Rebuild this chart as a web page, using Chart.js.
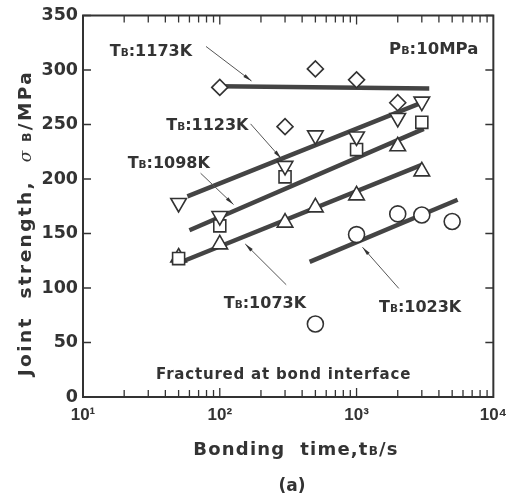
<!DOCTYPE html>
<html>
<head>
<meta charset="utf-8">
<script src="https://cdn.jsdelivr.net/npm/chart.js@4.4.0/dist/chart.umd.min.js"></script>
<style>
  html, body { margin: 0; padding: 0; background: #fff; }
</style>
</head>
<body>
<canvas id="chart" width="515" height="496"></canvas>
<script>
// bonding time (s) and joint strength (MPa)
const time1173 = [100, 300, 500, 1000, 2000];
const strength1173 = [284, 248, 301, 291, 270];
const time1123 = [50, 100, 300, 500, 1000, 2000, 3000];
const strength1123 = [178, 166, 212, 240, 239, 256, 271];
const time1098 = [50, 100, 300, 1000, 3000];
const strength1098 = [127, 157, 202, 227, 252];
const time1073 = [50, 100, 300, 500, 1000, 2000, 3000];
const strength1073 = [128, 140, 160, 174, 185, 230, 207];
const time1023 = [500, 1000, 2000, 3000, 5000];
const strength1023 = [67, 149, 168, 167, 161];

// fitted lines (end points)
const fitTime1173 = [100, 3400], fitStrength1173 = [285, 283];
const fitTime1123 = [58, 3000], fitStrength1123 = [184, 270];
const fitTime1098 = [60, 3100], fitStrength1098 = [153, 246];
const fitTime1073 = [55, 3000], fitStrength1073 = [125, 213];
const fitTime1023 = [454, 5480], fitStrength1023 = [124, 181];

// axes
const xTicks = [10, 100, 1000, 10000];
const xTickLabels = ['10\u00b9', '10\u00b2', '10\u00b3', '10\u2074'];
const yTicks = [0, 50, 100, 150, 200, 250, 300, 350];

// temperature labels and their arrows, in data units
const labelTemps = ['1173K', '1123K', '1098K', '1073K', '1023K'];
const labelTime = [15.7, 40.6, 21.2, 107, 1459];
const labelStrength = [318.6, 250.6, 215.3, 87.6, 83.1];
const arrowFromTime = [79.3, 167.9, 72.4, 306, 2037];
const arrowFromStrength = [321.6, 250.6, 205.3, 103, 99.6];
const arrowToTime = [170.6, 281, 126, 153.5, 1105];
const arrowToStrength = [289.9, 218.9, 176.6, 140.4, 137.4];

const ink = '#333';
const lineInk = '#444';
const FONT = '"DejaVu Sans", sans-serif';

const pts = (xs, ys) => xs.map((x, i) => ({ x: x, y: ys[i] }));

function markerSet(xs, ys, style, radius, rotation) {
    return {
        data: pts(xs, ys),
        showLine: false,
        pointStyle: style,
        pointRadius: radius,
        pointRotation: rotation || 0,
        pointBorderColor: ink,
        pointBackgroundColor: '#fff',
        pointBorderWidth: 1.6,
        order: 1
    };
}

function fitLine(xs, ys) {
    return {
        data: pts(xs, ys),
        showLine: true,
        borderColor: lineInk,
        borderWidth: 4.5,
        pointRadius: 0,
        order: 2
    };
}

// draws "T" + small "B" + rest, baseline-aligned
function richText(ctx, parts, x, y, align) {
    let total = 0;
    parts.forEach(p => {
        ctx.font = p.font;
        p.w = ctx.measureText(p.t).width;
        total += p.w;
    });
    let cx = align === 'center' ? x - total / 2 : (align === 'right' ? x - total : x);
    ctx.textAlign = 'left';
    ctx.textBaseline = 'alphabetic';
    parts.forEach(p => {
        ctx.font = p.font;
        ctx.fillText(p.t, cx, y);
        cx += p.w;
    });
}

function arrow(ctx, x1, y1, x2, y2) {
    const ang = Math.atan2(y2 - y1, x2 - x1);
    ctx.beginPath();
    ctx.moveTo(x1, y1);
    ctx.lineTo(x2, y2);
    ctx.stroke();
    const len = 9, spread = 0.2;
    ctx.beginPath();
    ctx.moveTo(x2, y2);
    ctx.lineTo(x2 - len * Math.cos(ang - spread), y2 - len * Math.sin(ang - spread));
    ctx.lineTo(x2 - len * Math.cos(ang + spread), y2 - len * Math.sin(ang + spread));
    ctx.closePath();
    ctx.fill();
}

const frame = {
    id: 'frame',
    beforeDatasetsDraw(chart) {
        const ctx = chart.ctx, a = chart.chartArea;
        const xs = chart.scales.x, ys = chart.scales.y;
        ctx.save();
        ctx.strokeStyle = ink;
        ctx.lineWidth = 2;
        ctx.strokeRect(a.left, a.top, a.right - a.left, a.bottom - a.top);
        ctx.lineWidth = 1.3;
        ctx.beginPath();
        yTicks.forEach(v => {
            const py = ys.getPixelForValue(v);
            ctx.moveTo(a.left, py); ctx.lineTo(a.left + 8, py);
            ctx.moveTo(a.right, py); ctx.lineTo(a.right - 8, py);
        });
        for (let d = 10; d < 10000; d *= 10) {
            for (let m = 1; m <= 9; m++) {
                const px = xs.getPixelForValue(d * m);
                const len = m === 1 ? 9 : 7;
                ctx.moveTo(px, a.bottom); ctx.lineTo(px, a.bottom - len);
                ctx.moveTo(px, a.top); ctx.lineTo(px, a.top + len);
            }
        }
        ctx.stroke();
        ctx.restore();
    },
    afterDraw(chart) {
        const ctx = chart.ctx, a = chart.chartArea;
        const xs = chart.scales.x, ys = chart.scales.y;
        ctx.save();
        ctx.fillStyle = ink;
        ctx.strokeStyle = '#555';
        ctx.lineWidth = 1;

        const big = 'bold 16px ' + FONT, small = 'bold 10.5px ' + FONT;
        labelTemps.forEach((t, i) => {
            const lx = xs.getPixelForValue(labelTime[i]);
            const ly = ys.getPixelForValue(labelStrength[i]);
            richText(ctx, [{ t: 'T', font: big }, { t: 'B', font: small }, { t: ':' + t, font: big }], lx, ly + 6, 'left');
            arrow(ctx, xs.getPixelForValue(arrowFromTime[i]), ys.getPixelForValue(arrowFromStrength[i]),
                xs.getPixelForValue(arrowToTime[i]), ys.getPixelForValue(arrowToStrength[i]));
        });

        richText(ctx, [{ t: 'P', font: 'bold 16.5px ' + FONT }, { t: 'B', font: 'bold 11px ' + FONT },
            { t: ':10MPa', font: 'bold 16.5px ' + FONT }], a.right - 15, a.top + 38, 'right');

        ctx.letterSpacing = '0.8px';
        richText(ctx, [{ t: 'Fractured at bond interface', font: 'bold 15px ' + FONT }],
            xs.getPixelForValue(34.2), ys.getPixelForValue(21.2) + 5, 'left');

        // axis titles
        ctx.letterSpacing = '1.2px';
        richText(ctx, [{ t: 'Bonding  time,t', font: 'bold 18px ' + FONT }, { t: 'B', font: 'bold 12px ' + FONT },
            { t: '/s', font: 'bold 18px ' + FONT }], 296, 455, 'center');
        ctx.letterSpacing = '0px';
        richText(ctx, [{ t: '(a)', font: 'bold 17px ' + FONT }], 292, 491, 'center');

        ctx.translate(31, 223);
        ctx.rotate(-Math.PI / 2);
        ctx.letterSpacing = '2.4px';
        richText(ctx, [{ t: 'Joint  strength,  ', font: 'bold 18.5px ' + FONT },
            { t: '\u03c3', font: 'italic 17px "DejaVu Serif", serif' },
            { t: ' B', font: 'bold 12px ' + FONT }, { t: '/MPa', font: 'bold 18.5px ' + FONT }], 0, 0, 'center');
        ctx.restore();
    }
};

new Chart(document.getElementById('chart'), {
    type: 'scatter',
    data: {
        datasets: [
            markerSet(time1173, strength1173, 'rectRot', 8),
            markerSet(time1123, strength1123, 'triangle', 9, 180),
            markerSet(time1098, strength1098, 'rect', 8.5),
            markerSet(time1073, strength1073, 'triangle', 9),
            markerSet(time1023, strength1023, 'circle', 8),
            fitLine(fitTime1173, fitStrength1173),
            fitLine(fitTime1123, fitStrength1123),
            fitLine(fitTime1098, fitStrength1098),
            fitLine(fitTime1073, fitStrength1073),
            fitLine(fitTime1023, fitStrength1023)
        ]
    },
    options: {
        responsive: false,
        animation: false,
        layout: { padding: { top: 13, right: 18, left: 0, bottom: 0 } },
        plugins: { legend: { display: false }, tooltip: { enabled: false } },
        scales: {
            x: {
                type: 'logarithmic',
                min: 10,
                max: 10000,
                afterBuildTicks: s => { s.ticks = xTicks.map(v => ({ value: v })); },
                afterFit: s => { s.height = 99; },
                grid: { display: false, drawTicks: false },
                border: { display: false },
                ticks: {
                    autoSkip: false,
                    maxRotation: 0,
                    padding: 8,
                    color: ink,
                    font: { family: '"Liberation Sans", sans-serif', weight: 'bold', size: 17 },
                    callback: (v, i) => xTickLabels[i]
                }
            },
            y: {
                min: 0,
                max: 350,
                afterBuildTicks: s => { s.ticks = yTicks.map(v => ({ value: v })); },
                afterFit: s => { s.width = 83; },
                grid: { display: false, drawTicks: false },
                border: { display: false },
                ticks: {
                    padding: 5,
                    color: ink,
                    font: { family: FONT, weight: 'bold', size: 17.5 }
                }
            }
        }
    },
    plugins: [frame]
});
</script>
</body>
</html>
